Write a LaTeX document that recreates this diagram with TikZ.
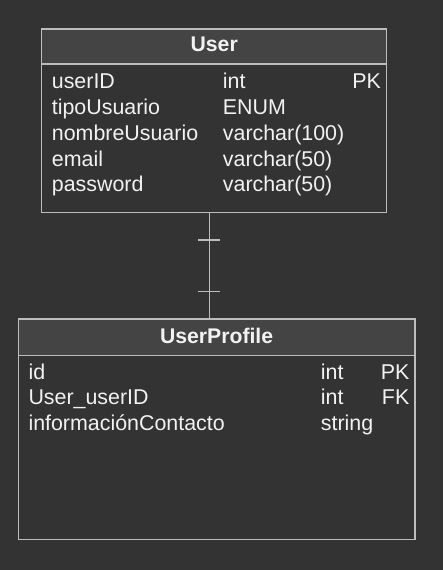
\documentclass[tikz,border=0pt]{standalone}
\usepackage{fontspec}
\setmainfont{Liberation Sans}
\definecolor{bg}{HTML}{333333}
\definecolor{hdr}{HTML}{444444}
\definecolor{edge}{HTML}{BDBDBD}
\definecolor{txt}{HTML}{F2F2F2}
\begin{document}
\begin{tikzpicture}[x=1pt,y=-1pt,
  tbl/.style={draw=edge,line width=1.2pt,fill=bg},
  hd/.style={draw=edge,line width=1.2pt,fill=hdr},
  ttl/.style={text=txt,font=\fontsize{21.2}{23}\selectfont\bfseries,inner sep=0pt},
  fld/.style={text=txt,font=\fontsize{21.4}{23}\selectfont,inner sep=0pt,anchor=base west},
  key/.style={text=txt,font=\fontsize{21.4}{23}\selectfont,inner sep=0pt,anchor=base east},
  conn/.style={draw=edge,line width=1.2pt}]
\fill[bg] (0,0) rectangle (443,570);
\useasboundingbox (0,0) rectangle (443,570);
% User table
\draw[tbl] (41.7,29) rectangle (386.7,212.7);
\draw[hd] (41.7,29) rectangle (386.7,64);
\node[ttl] (utitle) at (214.2,44.5) {User};
\coordinate (ubot) at (209.3,212.7);
\node[fld] (u1) at (51.7,88.2) {userID};
\node[fld] (u1t) at (222.7,88.2) {int};
\node[key] (u1k) at (381,88.2) {PK};
\node[fld] (u2) at (51.7,114) {tipoUsuario};
\node[fld] (u2t) at (222.7,114) {ENUM};
\node[fld] (u3) at (51.7,140) {nombreUsuario};
\node[fld] (u3t) at (222.7,140) {varchar(100)};
\node[fld] (u4) at (51.7,166) {email};
\node[fld] (u4t) at (222.7,166) {varchar(50)};
\node[fld] (u5) at (51.7,191.7) {password};
\node[fld] (u5t) at (222.7,191.7) {varchar(50)};
% UserProfile table
\draw[tbl] (18.3,319) rectangle (415,539.3);
\draw[hd] (18.3,319) rectangle (415,355.3);
\node[ttl] (ptitle) at (216.6,336) {UserProfile};
\coordinate (ptop) at (209.3,319);
\node[fld] (p1) at (28.3,379) {id};
\node[fld] (p1t) at (320.7,379) {int};
\node[key] (p1k) at (409.5,379) {PK};
\node[fld] (p2) at (28.3,404) {User\_userID};
\node[fld] (p2t) at (320.7,404) {int};
\node[key] (p2k) at (409.5,404) {FK};
\node[fld] (p3) at (28.3,430) {informaciónContacto};
\node[fld] (p3t) at (320.7,430) {string};
% connector
\draw[conn] (ubot) -- (ptop);
\draw[conn] ([xshift=-11pt,yshift=-27.3pt]ubot) -- ([xshift=11pt,yshift=-27.3pt]ubot);
\draw[conn] ([xshift=-11pt,yshift=27.6pt]ptop) -- ([xshift=11pt,yshift=27.6pt]ptop);
\end{tikzpicture}
\end{document}
